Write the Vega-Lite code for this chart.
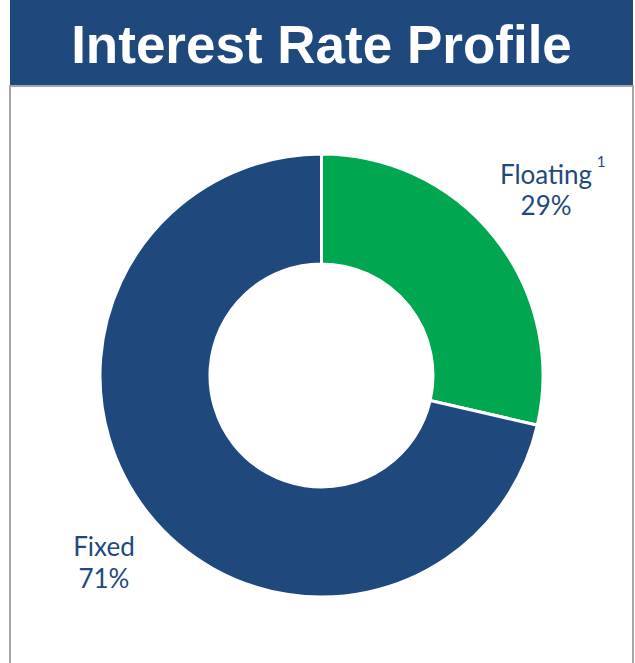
{
  "$schema": "https://vega.github.io/schema/vega-lite/v6.json",
  "padding": {"left": 9, "top": 0, "right": 0, "bottom": 0},
  "spacing": 0,
  "background": "white",
  "config": {"view": {"stroke": null}},
  "vconcat": [
    {
      "width": 623,
      "height": 85,
      "view": {"fill": "#1F497D", "stroke": null},
      "data": {"values": [{"title": "Interest Rate Profile"}]},
      "mark": {"type": "text", "font": "Liberation Sans", "fontWeight": "bold", "fontSize": 53, "color": "white", "align": "center", "baseline": "alphabetic", "dy": 20},
      "encoding": {"text": {"field": "title"}}
    },
    {
      "width": 623,
      "height": 579,
      "view": {"stroke": "#A6A6A6", "strokeWidth": 2},
      "data": {"values": [
        {"category": "Floating", "value": 28.6, "label": "Floating\n29%", "note": "1"},
        {"category": "Fixed", "value": 71.4, "label": "Fixed\n71%", "note": ""}
      ]},
      "encoding": {
        "theta": {"field": "value", "type": "quantitative", "stack": true},
        "order": {"field": "category", "sort": "descending"}
      },
      "layer": [
        {
          "mark": {"type": "arc", "radius": 221.5, "radius2": 111.5, "stroke": "white", "strokeWidth": 3},
          "encoding": {
            "color": {"field": "category", "type": "nominal", "scale": {"domain": ["Floating", "Fixed"], "range": ["#00A650", "#1F497D"]}, "legend": null}
          }
        },
        {
          "mark": {"type": "text", "radius": 287, "font": "Lato", "fontSize": 26, "color": "#1F497D", "align": "center", "baseline": "middle", "lineBreak": "\n", "lineHeight": 31, "dx": 0, "dy": -21},
          "encoding": {"text": {"condition": {"test": "datum.category == 'Floating'", "field": "label"}, "value": ""}}
        },
        {
          "mark": {"type": "text", "radius": 287, "font": "Lato", "fontSize": 26, "color": "#1F497D", "align": "center", "baseline": "middle", "lineBreak": "\n", "lineHeight": 32, "dx": 7, "dy": -6},
          "encoding": {"text": {"condition": {"test": "datum.category == 'Fixed'", "field": "label"}, "value": ""}}
        },
        {
          "mark": {"type": "text", "radius": 287, "font": "Lato", "fontSize": 15, "color": "#1F497D", "align": "center", "baseline": "middle", "dx": 55, "dy": -35},
          "encoding": {"text": {"field": "note"}}
        }
      ]
    }
  ]
}
